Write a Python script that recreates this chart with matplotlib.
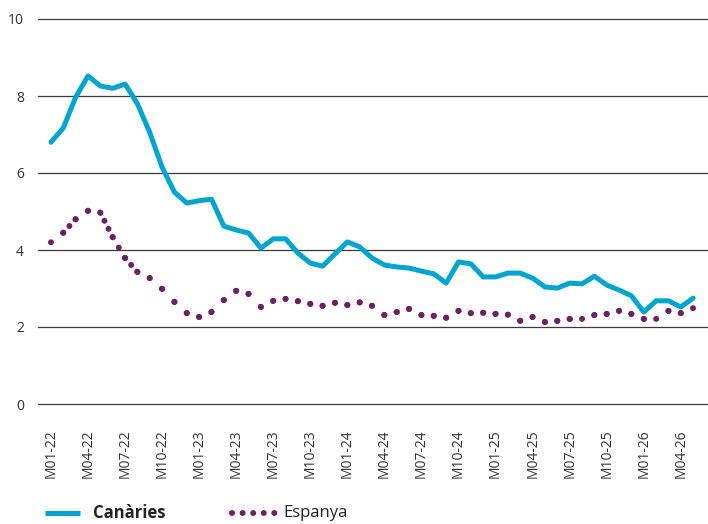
import math
import matplotlib
matplotlib.use("Agg")
import matplotlib.pyplot as plt
from matplotlib.lines import Line2D
import numpy as np

plt.rcParams['font.family'] = ['Open Sans', 'DejaVu Sans']

# monthly values M01-22 .. M05-26
canaries = [6.8, 7.17, 7.97, 8.52, 8.26, 8.2, 8.31, 7.8, 7.05, 6.15,
            5.5, 5.22, 5.28, 5.32, 4.62, 4.52, 4.44, 4.05, 4.29, 4.29,
            3.92, 3.66, 3.58, 3.9, 4.21, 4.08, 3.79, 3.61, 3.56, 3.53,
            3.45, 3.38, 3.14, 3.69, 3.64, 3.3, 3.3, 3.4, 3.4, 3.27,
            3.04, 3.01, 3.14, 3.12, 3.32, 3.09, 2.96, 2.81, 2.39, 2.68,
            2.68, 2.52, 2.75]
espanya = [4.2, 4.45, 4.8, 5.02, 4.97, 4.33, 3.79, 3.43, 3.27, 2.99,
           2.65, 2.36, 2.26, 2.39, 2.7, 2.94, 2.86, 2.52, 2.68, 2.73,
           2.67, 2.6, 2.55, 2.63, 2.57, 2.64, 2.55, 2.31, 2.39, 2.47,
           2.31, 2.29, 2.24, 2.42, 2.36, 2.37, 2.34, 2.32, 2.16, 2.26,
           2.13, 2.16, 2.21, 2.21, 2.31, 2.34, 2.42, 2.34, 2.21, 2.21,
           2.42, 2.36, 2.49]
tick_labels = ["M01-22", "M04-22", "M07-22", "M10-22", "M01-23", "M04-23",
               "M07-23", "M10-23", "M01-24", "M04-24", "M07-24", "M10-24",
               "M01-25", "M04-25", "M07-25", "M10-25", "M01-26", "M04-26"]
y_ticks = [0, 2, 4, 6, 8, 10]

blue = '#00a5cf'
purple = '#6e1e64'

W, H = 708, 524
fig = plt.figure(figsize=(W/100, H/100), dpi=100)
ax = fig.add_axes([38/W, 120/H, 670/W, 385/H])

ax.set_ylim(0, 10)
ax.set_xlim(-1.05, 53.2)

x = np.arange(len(canaries))
ax.plot(x, canaries, color=blue, lw=3.6, solid_joinstyle='round',
        solid_capstyle='round', zorder=3)

# dotted line: the dot pattern starts again at every point, like the source
lw_pt = 4.3
lw_px = lw_pt * fig.dpi / 72
pts = ax.transData.transform(np.column_stack([x, espanya]))
for k in range(len(x) - 1):
    seg = math.hypot(*(pts[k + 1] - pts[k]))
    n = max(1, int(seg // 9))
    gap = seg / n / lw_px * 0.985 - 0.01
    ax.plot(x[k:k + 2], espanya[k:k + 2], color=purple, lw=lw_pt,
            linestyle=(0, (0.01, gap)), dash_capstyle='round', zorder=3)

ax.set_yticks(y_ticks)
ax.set_yticklabels([str(v) for v in y_ticks])
ax.set_xticks(np.arange(0, len(canaries), 3))
ax.set_xticklabels(tick_labels, rotation=90)
ax.tick_params(axis='x', length=0, pad=18, labelsize=10, labelcolor='#333333')
ax.tick_params(axis='y', length=0, pad=10, labelsize=10, labelcolor='#333333')

ax.yaxis.grid(True, color='#3a3a3a', lw=0.9)
for gl in ax.get_ygridlines():
    gl.set_clip_on(False)
ax.set_axisbelow(True)
for s in ax.spines.values():
    s.set_visible(False)

# legend drawn by hand, in pixel positions of the figure
ly = 1 - 513/H
fig.add_artist(Line2D([45/W, 80/W], [ly, ly], color=blue, lw=3.6,
                      solid_capstyle='butt', transform=fig.transFigure))
fig.text(93/W, ly, 'Canàries', fontsize=12, fontweight='bold',
         color='#222222', va='center', ha='left')
fig.add_artist(Line2D([232/W, 275.5/W], [ly, ly], color=purple, lw=lw_pt,
                      linestyle=(0, (0.01, 1.76)), dash_capstyle='round',
                      transform=fig.transFigure))
fig.text(283/W, ly, 'Espanya', fontsize=12, color='#222222',
         va='center', ha='left')

fig.savefig("out.png", dpi=100)
